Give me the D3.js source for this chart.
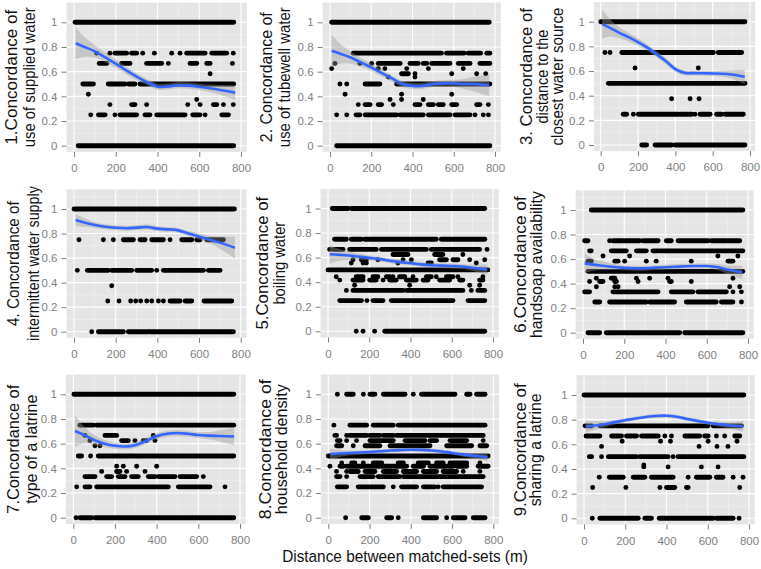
<!DOCTYPE html>
<html><head><meta charset="utf-8">
<script src="https://cdn.jsdelivr.net/npm/d3@7"></script>
<style>body{margin:0;background:#fff} text{font-family:"Liberation Sans",Arial,Helvetica,sans-serif}</style>
</head><body><svg id="c" width="761" height="569"></svg>
<script>
// ---------- DATA ----------
const xTicks = [0, 200, 400, 600, 800];
const xTickLabels = ["0", "200", "400", "600", "800"];
const yTicks = [0, 0.2, 0.4, 0.6, 0.8, 1];
const yTickLabels = ["0", "0.2", "0.4", "0.6", "0.8", "1"];
const xMinor = [100, 300, 500, 700];
const yMinor = [0.1, 0.3, 0.5, 0.7, 0.9, 1.1];
const xTitle = "Distance between matched-sets (m)";
const titles = [
  ["1.Concordance of", "use of supplied water"],
  ["2. Concordance of", "use of tubewell water"],
  ["3. Concordance of", "distance to the", "closest water source"],
  ["4. Concordance of", "intermittent water supply"],
  ["5.Concordance of", "boiling water"],
  ["6.Concordance of", "handsoap availability"],
  ["7.Concordance of", "type of a latrine"],
  ["8.Concordance of", "household density"],
  ["9.Concordance of", "sharing a latrine"]
];

// Points: [concordance level, [distance (m) or [from, to] for a run of overlapping dots]]
const dots1 = [
  [1, [[5, 765]]],
  [0.75, [109, 172, [196, 252], [276, 300], 329, 385, 468, 508, [540, 628], [660, 731], 763]],
  [0.667, [[121, 157], [228, 268], [348, 420], 452, [556, 588], [636, 652], 759]],
  [0.583, [652]],
  [0.5, [[42, 93], [164, 244], [260, 292], [316, 765]]],
  [0.417, [69]],
  [0.375, [588]],
  [0.333, [172, [276, 292], 348, 545, 604, [668, 684], 716, 763]],
  [0.25, [80, [117, 149], 196, [220, 300], [340, 364], [396, 532], [569, 604], 628, [708, 740]]],
  [0, [[20, 765]]]
];
const dots2 = [
  [1, [[8, 772]]],
  [0.75, [[113, 540], [565, 650], [670, 730], [760, 775]]],
  [0.667, [24, 145, 202, [234, 340], [388, 428], [452, 469], [493, 541], [549, 582], [622, 679], [727, 775]]],
  [0.625, [8, 234, 266, 372, 477, 646]],
  [0.583, [[347, 380], 412, 590, 711, 755]],
  [0.556, [283, 412]],
  [0.5, [48, 81, [170, 242], [323, 775]]],
  [0.417, [73, 347, 590]],
  [0.375, [291, 347, 452]],
  [0.333, [137, [170, 194], [234, 250], 307, [412, 436], [477, 501], [525, 549], [590, 614], [711, 727], 768]],
  [0.25, [32, 81, [126, 145], [170, 323], [339, 452], [477, 582], [606, 679], 703, 743, 768]],
  [0, [[32, 775]]]
];
const dots3 = [
  [1, [[0, 773]]],
  [0.75, [23, 50, [113, 604], [630, 755]]],
  [0.625, [184, 523]],
  [0.5, [[41, 773]]],
  [0.375, [380, 479, 527]],
  [0.25, [[121, 139], 175, [202, 416], [425, 488], 505, [532, 586], [621, 648], [666, 764]]],
  [0, [[220, 246], [291, 380], [398, 773]]]
];
const dots4 = [
  [1, [[0, 770]]],
  [0.75, [24, 141, 189, [237, 285], [317, 341], [373, 429], 461, [517, 565], [589, 605], [637, 717]]],
  [0.5, [16, [64, 165], [181, 277], [301, 373], 397, [429, 621], [645, 701]]],
  [0.375, [181]],
  [0.25, [162, 216, 272, 296, 320, 349, 373, 405, 429, [461, 509], [533, 565], [624, 757]]],
  [0, [85, [117, 237], [261, 357], [365, 765]]]
];
const dots5 = [
  [1, [[21, 97], [113, 760]]],
  [0.75, [[32, 89], [113, 162], [178, 525], [549, 760]]],
  [0.667, [8, [24, 73], [105, 234], [259, 477], [501, 735], 771]],
  [0.625, [[315, 388], [517, 557], 654]],
  [0.583, [121, [162, 186], 242, 364, 404, [541, 574], [606, 630], 687, 760]],
  [0.556, [113, 170, 186, 339, [485, 501], 719]],
  [0.5, [[0, 775]]],
  [0.444, [40, [137, 170], [218, 242], [283, 299], 315, [347, 372], 412, [477, 501], 525, [574, 606], 630, 751]],
  [0.417, [57, [121, 170], [202, 234], 267, [299, 331], [380, 428], [461, 485], [541, 590], [638, 654], [735, 751]]],
  [0.375, [129, 396, 687, 735]],
  [0.333, [89, [121, 364], [380, 654], 695, [727, 760]]],
  [0.25, [[57, 162], 189, [218, 267], [307, 355], [364, 606], [679, 760]]],
  [0, [137, 170, 226, [275, 760]]]
];
const dots6 = [
  [1, [[40, 775]]],
  [0.75, [[8, 24], 129, [145, 275], [291, 364], [404, 428], [461, 606], [622, 760]]],
  [0.667, [[32, 40], [137, 210], [259, 307], [339, 364], [372, 775]]],
  [0.625, [97, 226, 654, 751]],
  [0.583, [[24, 40], [154, 170], 202, 307, 355, 525, [703, 727]]],
  [0.5, [[24, 775]]],
  [0.444, [65, [137, 154], 259, 323, 412, 727]],
  [0.417, [32, [81, 97], [154, 162], 267, [420, 428], 525]],
  [0.375, [65, 154, 170, 711, 760]],
  [0.333, [[8, 32], [145, 364], [428, 533], [557, 695], 727, 768]],
  [0.25, [[57, 81], [129, 307], [323, 444], [501, 646], [671, 727], 768]],
  [0, [[24, 81], [113, 469], [493, 775]]]
];
const dots7 = [
  [1, [[3, 770]]],
  [0.75, [[32, 96], [112, 770]]],
  [0.667, [56, [152, 208], 384]],
  [0.625, [80, [232, 264], 296, [336, 352], 392]],
  [0.583, [104, 128]],
  [0.5, [[24, 40], 83, [120, 770]]],
  [0.417, [208, 240, 304, 400]],
  [0.375, [136, [208, 224], 256, 344]],
  [0.333, [[56, 104], [160, 184], [216, 248], [280, 312], [360, 392], [408, 488], [512, 592], 624]],
  [0.25, [16, [56, 80], [112, 456], [504, 656], 728]],
  [0, [13, [32, 88], [104, 770]]]
];
const dots8 = [
  [1, [44, [89, 121], 170, [202, 226], [267, 372], 412, [452, 614], [671, 687], [719, 760]]],
  [0.75, [27, [105, 186], [218, 315], [339, 760]]],
  [0.667, [[32, 40], 89, [105, 186], [202, 250], [267, 315], [331, 751]]],
  [0.625, [[44, 57], 89, 137, [202, 315], [372, 469], [493, 525], [590, 671], 751]],
  [0.583, [[40, 65], 121, [178, 250], [299, 493], [574, 695], [735, 768]]],
  [0.5, [[0, 775]]],
  [0.444, [65, [113, 129], 170, [218, 259], [339, 364], [436, 485], [525, 557], [590, 671], 735]],
  [0.417, [8, [57, 73], [89, 380], [412, 461], [493, 606], [622, 671], [727, 775]]],
  [0.375, [40, 89, [105, 145], [178, 226], [267, 331], [364, 428], [461, 525], [557, 622], 654, 735]],
  [0.333, [[40, 57], 89, [154, 218], [242, 347], [364, 751]]],
  [0.25, [[44, 89], [145, 267], 315, [355, 428], [461, 517], 533, [557, 743]]],
  [0, [84, [162, 194], [283, 307], 339, [461, 525], 574, [606, 663], [703, 760]]]
];
const dots9 = [
  [1, [[0, 775]]],
  [0.75, [[5, 37], [77, 150], [158, 602], [626, 763]]],
  [0.667, [[10, 77], [134, 182], [206, 231], [239, 255], [279, 360], 392, 424, [489, 561], [585, 602], 642, 682, [731, 755]]],
  [0.625, [185, 371, 419, 602, 742]],
  [0.583, [85, 558, 645, 698]],
  [0.5, [[26, 37], 85, [118, 255], [271, 408], 432, [456, 775]]],
  [0.433, [290]],
  [0.417, [290, 408, 569, 650]],
  [0.333, [74, [123, 190], [239, 295], [327, 432], 505, [545, 610], [642, 674], 723, 771]],
  [0.25, [42, 203, 368, [400, 440], [497, 505], 755]],
  [0, [40, [77, 263], [295, 327], [365, 626], [642, 723], 752]]
];

// Loess smooth (fit) and standard-error half width, read at these distances
const smoothX = [8, 50, 100, 150, 200, 250, 300, 350, 400, 450, 500, 550, 600, 650, 700, 772];
const fit1 = [0.83, 0.80, 0.765, 0.715, 0.665, 0.61, 0.56, 0.515, 0.478, 0.48, 0.49, 0.487, 0.477, 0.466, 0.452, 0.43];
const se1  = [0.13, 0.08, 0.05, 0.04, 0.035, 0.03, 0.03, 0.025, 0.025, 0.025, 0.025, 0.025, 0.025, 0.03, 0.04, 0.06];
const fit2 = [0.77, 0.745, 0.715, 0.675, 0.635, 0.59, 0.545, 0.50, 0.485, 0.485, 0.50, 0.505, 0.505, 0.50, 0.50, 0.49];
const se2  = [0.13, 0.08, 0.05, 0.035, 0.03, 0.03, 0.025, 0.025, 0.025, 0.025, 0.025, 0.025, 0.03, 0.04, 0.06, 0.09];
const fit3 = [0.98, 0.95, 0.91, 0.875, 0.835, 0.79, 0.735, 0.68, 0.615, 0.585, 0.583, 0.582, 0.58, 0.578, 0.572, 0.553];
const se3  = [0.12, 0.07, 0.045, 0.035, 0.03, 0.025, 0.025, 0.025, 0.02, 0.02, 0.02, 0.02, 0.02, 0.025, 0.035, 0.06];
const fit4 = [0.91, 0.89, 0.87, 0.855, 0.847, 0.843, 0.848, 0.853, 0.84, 0.834, 0.826, 0.80, 0.776, 0.752, 0.726, 0.685];
const se4  = [0.05, 0.035, 0.025, 0.02, 0.02, 0.02, 0.02, 0.02, 0.02, 0.02, 0.02, 0.02, 0.025, 0.03, 0.05, 0.09];
const fit5 = [0.628, 0.623, 0.617, 0.608, 0.598, 0.588, 0.575, 0.563, 0.555, 0.545, 0.538, 0.535, 0.532, 0.528, 0.517, 0.503];
const se5  = [0.075, 0.05, 0.035, 0.025, 0.02, 0.02, 0.02, 0.02, 0.02, 0.02, 0.02, 0.02, 0.02, 0.02, 0.025, 0.04];
const fit6 = [0.565, 0.555, 0.545, 0.535, 0.528, 0.525, 0.525, 0.53, 0.533, 0.537, 0.541, 0.543, 0.543, 0.535, 0.515, 0.49];
const se6  = [0.08, 0.05, 0.035, 0.025, 0.02, 0.02, 0.02, 0.02, 0.02, 0.02, 0.02, 0.02, 0.02, 0.025, 0.035, 0.055];
const fit7 = [0.703, 0.672, 0.63, 0.60, 0.583, 0.577, 0.59, 0.622, 0.66, 0.68, 0.686, 0.68, 0.67, 0.665, 0.662, 0.658];
const se7  = [0.13, 0.07, 0.04, 0.03, 0.025, 0.025, 0.025, 0.025, 0.025, 0.025, 0.025, 0.025, 0.025, 0.03, 0.045, 0.07];
const fit8 = [0.516, 0.52, 0.524, 0.528, 0.533, 0.538, 0.544, 0.548, 0.551, 0.55, 0.545, 0.537, 0.525, 0.513, 0.503, 0.49];
const se8  = [0.045, 0.03, 0.02, 0.017, 0.015, 0.015, 0.015, 0.015, 0.015, 0.015, 0.015, 0.015, 0.015, 0.017, 0.02, 0.035];
const fit9 = [0.743, 0.752, 0.763, 0.78, 0.795, 0.81, 0.822, 0.83, 0.832, 0.823, 0.806, 0.79, 0.775, 0.765, 0.755, 0.745];
const se9  = [0.05, 0.035, 0.025, 0.02, 0.015, 0.015, 0.015, 0.015, 0.015, 0.015, 0.015, 0.015, 0.017, 0.02, 0.025, 0.045];

// ---------- LAYOUT ----------
const dotsAll = [dots1, dots2, dots3, dots4, dots5, dots6, dots7, dots8, dots9];
const fitAll = [fit1, fit2, fit3, fit4, fit5, fit6, fit7, fit8, fit9];
const seAll = [se1, se2, se3, se4, se5, se6, se7, se8, se9];
const layout = [
  {x0: 74, x8: 241, y1: 22.3, y0: 145.7, tb: [17, 35], tl: [135, 140], fs: 17},
  {x0: 330, x8: 495, y1: 22.3, y0: 145.7, tb: [272, 290], tl: [130, 140], fs: 17},
  {x0: 600.7, x8: 750, y1: 21.7, y0: 145, tb: [532, 548, 563], tl: [137, 94, 138], fs: 16},
  {x0: 74, x8: 240.7, y1: 209, y0: 331.7, tb: [19, 39], tl: [125, 155], fs: 17},
  {x0: 328, x8: 493, y1: 208.5, y0: 331.3, tb: [268, 285], tl: [133, 83], fs: 17},
  {x0: 583, x8: 748, y1: 210, y0: 332.7, tb: [526, 542], tl: [137, 147], fs: 17},
  {x0: 73.3, x8: 240, y1: 394.3, y0: 517.7, tb: [19, 37], tl: [129, 109], fs: 17},
  {x0: 328.3, x8: 493.3, y1: 394.3, y0: 517.7, tb: [271, 287], tl: [140, 130], fs: 17},
  {x0: 584, x8: 749, y1: 395, y0: 518.3, tb: [526, 541], tl: [133, 113], fs: 17}
];

const svg = d3.select("#c");
const R = 2.45;

// condensed text: scale horizontally to a target length
function fitText(sel, target) {
  const n = sel.node().getComputedTextLength();
  return n > 0 ? target / n : 1;
}

layout.forEach((L, i) => {
  const x = d3.scaleLinear().domain([0, 800]).range([L.x0, L.x8]);
  const y = d3.scaleLinear().domain([0, 1]).range([L.y0, L.y1]);
  const xl = x(-36), xr = x(828), yt = y(1.16), yb = y(-0.05);
  const g = svg.append("g");

  g.append("rect").attr("x", xl).attr("y", yt).attr("width", xr - xl).attr("height", yb - yt).attr("fill", "#E5E5E5");
  g.selectAll(".mx").data(xMinor).join("line").attr("x1", d => x(d)).attr("x2", d => x(d)).attr("y1", yt).attr("y2", yb)
    .attr("stroke", "#F2F2F2").attr("stroke-width", 0.6);
  g.selectAll(".my").data(yMinor).join("line").attr("y1", d => y(d)).attr("y2", d => y(d)).attr("x1", xl).attr("x2", xr)
    .attr("stroke", "#F2F2F2").attr("stroke-width", 0.6);
  g.selectAll(".gx").data(xTicks).join("line").attr("x1", d => x(d)).attr("x2", d => x(d)).attr("y1", yt).attr("y2", yb)
    .attr("stroke", "#fff").attr("stroke-width", 1.1);
  g.selectAll(".gy").data(yTicks).join("line").attr("y1", d => y(d)).attr("y2", d => y(d)).attr("x1", xl).attr("x2", xr)
    .attr("stroke", "#fff").attr("stroke-width", 1.1);

  const pts = g.append("g");
  dotsAll[i].forEach(([lev, items]) => {
    items.forEach(it => {
      if (Array.isArray(it)) {
        pts.append("line").attr("x1", x(it[0])).attr("x2", x(it[1])).attr("y1", y(lev)).attr("y2", y(lev))
          .attr("stroke", "#000").attr("stroke-width", 2 * R).attr("stroke-linecap", "round");
      } else {
        pts.append("circle").attr("cx", x(it)).attr("cy", y(lev)).attr("r", R).attr("fill", "#000");
      }
    });
  });

  const sm = smoothX.map((d, k) => ({x: d, f: fitAll[i][k], s: seAll[i][k]}));
  const area = d3.area().x(d => x(d.x)).y0(d => y(d.f - d.s)).y1(d => y(d.f + d.s)).curve(d3.curveCatmullRom.alpha(0.5));
  g.append("path").attr("d", area(sm)).attr("fill", "#999999").attr("fill-opacity", 0.4);
  const line = d3.line().x(d => x(d.x)).y(d => y(d.f)).curve(d3.curveCatmullRom.alpha(0.5));
  g.append("path").attr("d", line(sm)).attr("fill", "none").attr("stroke", "#3366FF").attr("stroke-width", 2.6);

  const ay = g.append("g").attr("transform", `translate(${xl},0)`)
    .call(d3.axisLeft(y).tickValues(yTicks).tickFormat((d, k) => yTickLabels[k]).tickSize(5).tickPadding(4));
  const ax = g.append("g").attr("transform", `translate(0,${yb})`)
    .call(d3.axisBottom(x).tickValues(xTicks).tickFormat((d, k) => xTickLabels[k]).tickSize(5).tickPadding(7));
  [ax, ay].forEach(a => {
    a.select(".domain").remove();
    a.selectAll("line").attr("stroke", "#7F7F7F").attr("stroke-width", 1);
    a.selectAll("text").attr("fill", "#7F7F7F").style("font-size", "11.5px")
      .style("font-family", '"Liberation Sans",Arial,Helvetica,sans-serif');
  });

  const cy = (yt + yb) / 2;
  titles[i].forEach((t, k) => {
    const tx = g.append("text").attr("text-anchor", "middle").attr("fill", "#111")
      .style("font-size", L.fs + "px").text(t);
    const s = fitText(tx, L.tl[k]);
    tx.attr("transform", `translate(${L.tb[k]},${cy}) rotate(-90) scale(${s},1)`);
  });
});

const xt = svg.append("text").attr("text-anchor", "middle").attr("fill", "#111")
  .style("font-size", "17px").text(xTitle);
const sx = fitText(xt, 246);
xt.attr("transform", `translate(405,562) scale(${sx},1)`);
</script></body></html>
